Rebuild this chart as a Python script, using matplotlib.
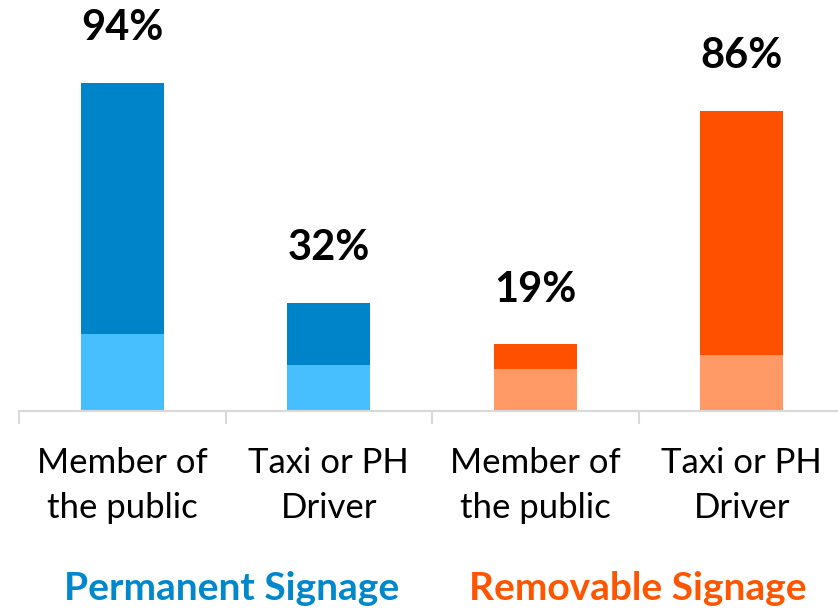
import numpy as np
import matplotlib.pyplot as plt

plt.rcParams['font.family'] = ['Lato', 'DejaVu Sans']

categories = ["Member of\nthe public", "Taxi or PH\nDriver", "Member of\nthe public", "Taxi or PH\nDriver"]
lower = [22, 13, 12, 16]
upper = [72, 18, 7, 70]
labels = ["94%", "32%", "19%", "86%"]
groups = ["Permanent Signage", "Removable Signage"]

dark = ["#0084C9", "#0084C9", "#FF5000", "#FF5000"]
light = ["#47BFFF", "#47BFFF", "#FF9966", "#FF9966"]

fig = plt.figure(figsize=(8.38, 6.12), dpi=100)
ax = fig.add_axes([19/838, 1 - 410.7/612, 826/838, 348.9/612])

x = np.arange(len(categories))
ax.bar(x, lower, width=0.40, color=light)
ax.bar(x, upper, width=0.40, bottom=lower, color=dark)

totals = np.array(lower) + np.array(upper)
for xi, t, lab in zip(x, totals, labels):
    ax.annotate(lab, (xi, t), xytext=(0, 39.5), textcoords="offset points",
                ha="center", va="center", fontsize=30, fontweight="bold")

ax.set_xlim(-0.5, 3.5)
ax.set_ylim(0, 100)
for s in ["top", "right", "left"]:
    ax.spines[s].set_visible(False)
ax.spines["bottom"].set_color("#D9D9D9")
ax.spines["bottom"].set_linewidth(1.5)
ax.set_yticks([])
ax.set_xticks(x)
ax.set_xticklabels(categories, fontsize=25, linespacing=1.5)
ax.tick_params(axis="x", which="major", length=0, pad=26)
ax.set_xticks(np.arange(-0.5, 4, 1), minor=True)
ax.tick_params(axis="x", which="minor", length=9, width=1.5, color="#D9D9D9")

fig.text(232/838, 1 - 588/612, groups[0], color="#0087CC", fontsize=28,
         fontweight="bold", ha="center", va="center")
fig.text(638/838, 1 - 588/612, groups[1], color="#FF5500", fontsize=28,
         fontweight="bold", ha="center", va="center")

fig.savefig("out.png", dpi=100)
